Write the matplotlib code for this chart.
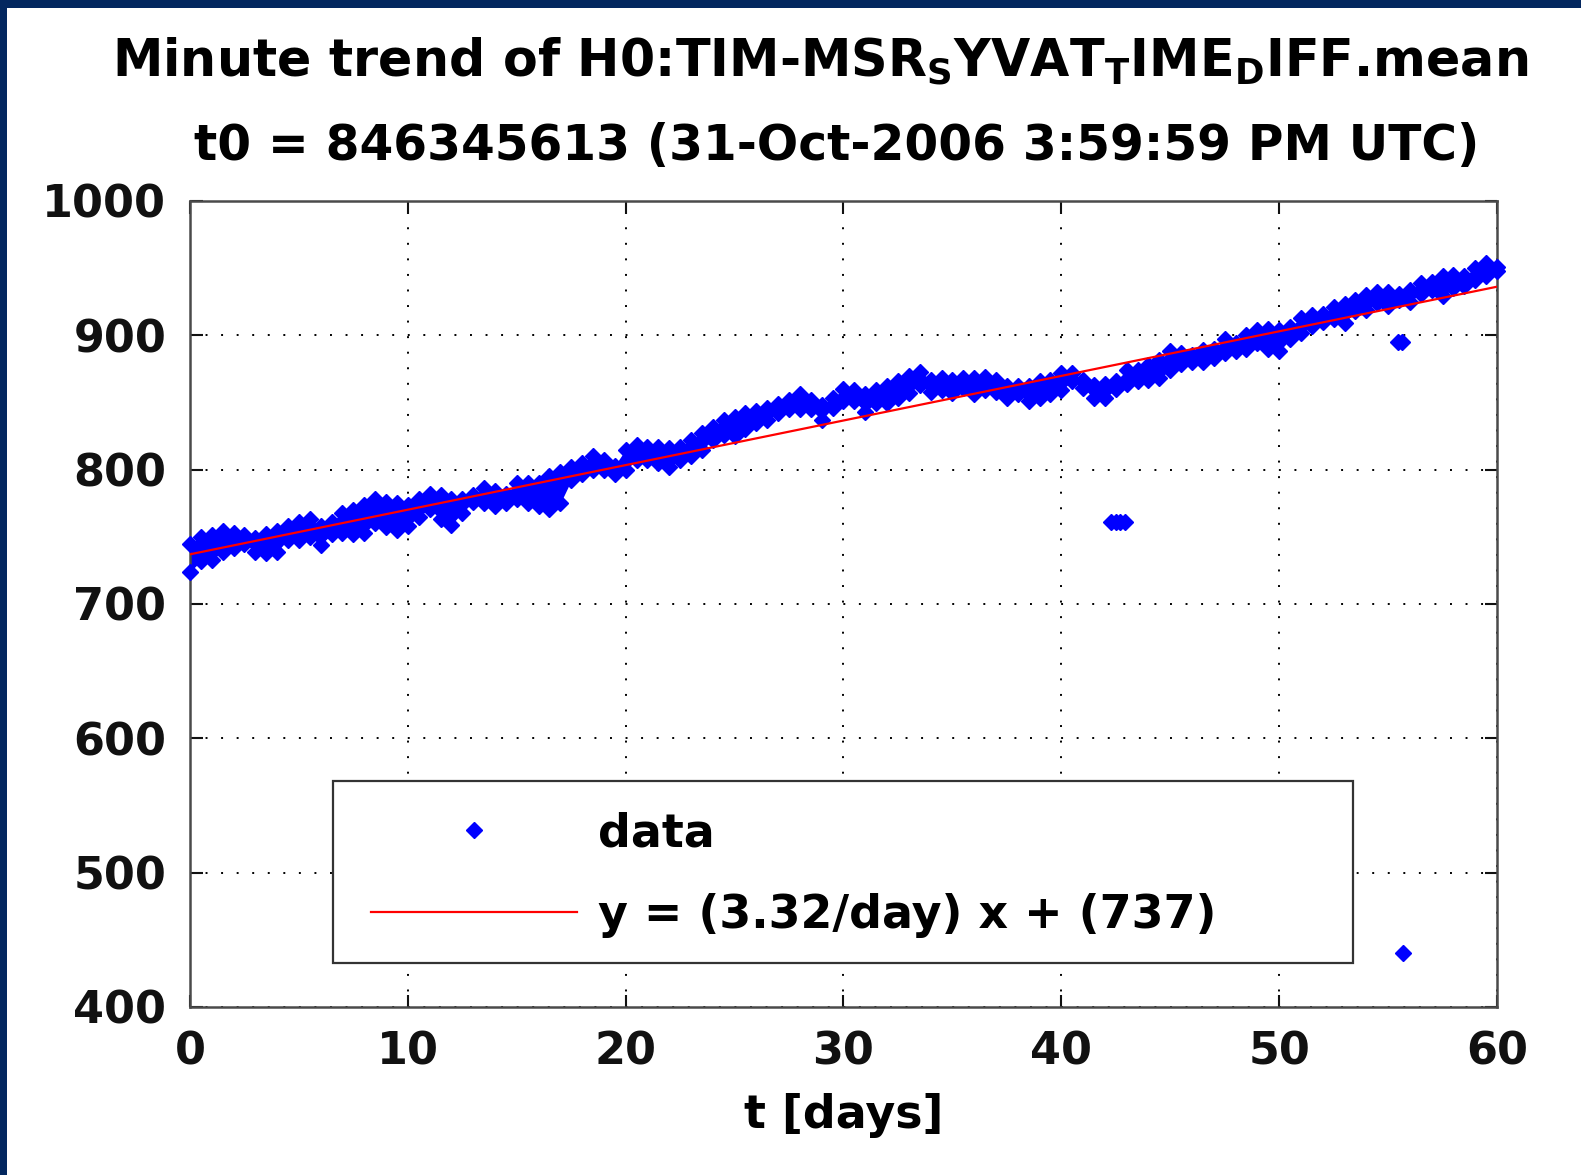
import numpy as np
import matplotlib
matplotlib.use("Agg")
import matplotlib.pyplot as plt
from matplotlib.patches import Rectangle
from matplotlib.lines import Line2D

plt.rcParams['font.family'] = ['DejaVu Sans']
plt.rcParams['font.weight'] = 'bold'
plt.rcParams['axes.labelweight'] = 'bold'
plt.rcParams['mathtext.fontset'] = 'custom'
plt.rcParams['mathtext.rm'] = 'DejaVu Sans:bold'
plt.rcParams['mathtext.it'] = 'DejaVu Sans:bold'
plt.rcParams['mathtext.bf'] = 'DejaVu Sans:bold'

# ---- data ----
days = np.arange(0, 60.5, 0.5)   # reading grid (days)
data_hi = [745, 750, 751, 754, 753, 751, 749, 752, 754, 758,
           761, 763, 758, 761, 768, 770, 774, 778, 776, 775,
           774, 778, 782, 781, 778, 778, 781, 786, 784, 782,
           790, 790, 790, 795, 798, 802, 805, 810, 807, 803,
           815, 818, 817, 817, 816, 817, 822, 827, 832, 837,
           839, 842, 844, 846, 849, 852, 856, 852, 848, 853,
           860, 859, 856, 859, 862, 866, 870, 873, 867, 868,
           867, 868, 868, 869, 867, 862, 862, 862, 866, 867,
           872, 872, 867, 863, 864, 866, 874, 874, 878, 882,
           888, 887, 885, 889, 890, 897, 894, 900, 904, 905,
           904, 906, 913, 915, 916, 921, 923, 926, 930, 932,
           932, 931, 934, 939, 940, 944, 945, 944, 950, 954,
           951]
data_lo = [724, 732, 733, 739, 742, 745, 739, 738, 739, 748,
           748, 750, 744, 752, 753, 752, 753, 760, 757, 755,
           758, 765, 771, 763, 759, 768, 776, 775, 773, 775,
           778, 775, 773, 771, 775, 792, 797, 800, 800, 797,
           800, 807, 807, 805, 802, 807, 810, 815, 822, 826,
           825, 830, 835, 837, 842, 845, 845, 845, 837, 846,
           851, 851, 843, 850, 850, 853, 857, 863, 858, 859,
           857, 861, 856, 859, 858, 853, 856, 851, 853, 856,
           859, 866, 861, 853, 853, 860, 864, 866, 867, 868,
           874, 879, 880, 880, 883, 887, 888, 890, 894, 890,
           888, 897, 902, 907, 910, 912, 909, 918, 919, 924,
           922, 926, 925, 931, 934, 929, 935, 937, 941, 944,
           948]
outlier_days = [42.3, 42.5, 42.7, 42.9, 55.45, 55.65, 55.7]
outlier_vals = [761, 761, 761, 761, 895, 895, 440]

fit_slope = 3.32
fit_intercept = 737
fit_days = [0, 60]
fit_vals = [737, 936.2]

title1 = r"Minute trend of H0:TIM-MSR$_\mathrm{S}$YVAT$_\mathrm{T}$IME$_\mathrm{D}$IFF.mean"
title2 = "t0 = 846345613 (31-Oct-2006 3:59:59 PM UTC)"
xticks = [0, 10, 20, 30, 40, 50, 60]
yticks = [400, 500, 600, 700, 800, 900, 1000]

W, H = 1581, 1175
fig = plt.figure(figsize=(W / 100, H / 100), dpi=100)
fig.patch.set_facecolor('white')

navy = '#03275f'
fig.patches.append(Rectangle((0, 0), 7 / W, 1, transform=fig.transFigure,
                             fc=navy, ec='none', zorder=10))
fig.patches.append(Rectangle((0, 1 - 8 / H), 1, 8 / H, transform=fig.transFigure,
                             fc=navy, ec='none', zorder=10))

ax = fig.add_axes([190 / W, 1 - 1007 / H, 1307 / W, 806 / H])

blue = '#0000ff'
ax.fill_between(days, data_lo, data_hi, color=blue, lw=0, zorder=2)
mk = dict(marker='D', ms=8.4, mew=1.0, color=blue, ls='none', zorder=3, clip_on=False)
ax.plot(days, data_hi, **mk)
ax.plot(days, data_lo, **mk)
ax.plot(outlier_days, outlier_vals, **mk)
ax.plot(fit_days, fit_vals, color='#ff0000', lw=1.6, zorder=3.5)

ax.set_xlim(0, 60)
ax.set_ylim(400, 1000)
ax.set_xticks(xticks)
ax.set_yticks(yticks)
ax.tick_params(direction='in', length=9, width=1.5, top=True, right=True,
               labelsize=32, colors='#111111')
ax.tick_params(axis='y', pad=17)
ax.tick_params(axis='x', pad=17)
ax.grid(True, color='k', linestyle=(0, (1, 7)), lw=1.4)
ax.set_axisbelow(True)
for s in ax.spines.values():
    s.set_color('#4a4a4a')
    s.set_linewidth(1.8)

ax.set_xlabel('t [days]', fontsize=33, labelpad=14)

fig.text(820 / W, 1 - 76 / H, title1, fontsize=36.5, ha='center', va='baseline')
fig.text(837 / W, 1 - 160 / H, title2, fontsize=35, ha='center', va='baseline')

# legend box
ax.add_patch(Rectangle((0.1094, 0.0546), 0.7804, 0.2258, transform=ax.transAxes,
                       fc='white', ec='#333333', lw=1.6, zorder=4, clip_on=False))
h_data = Line2D([], [], marker='D', ms=8.4, mew=1.0, color=blue, ls='none')
h_fit = Line2D([], [], color='#ff0000', lw=1.6)
leg = ax.legend([h_data, h_fit],
                ['data', f'y = ({fit_slope:.2f}/day) x + ({fit_intercept})'],
                loc='center left', bbox_to_anchor=(0.1385, 0.164),
                frameon=False, fontsize=33, handlelength=4.5, handletextpad=0.45,
                labelspacing=0.8, borderpad=0, borderaxespad=0, numpoints=1)
leg.set_zorder(5)

fig.savefig('out.png', dpi=100, facecolor='white')
